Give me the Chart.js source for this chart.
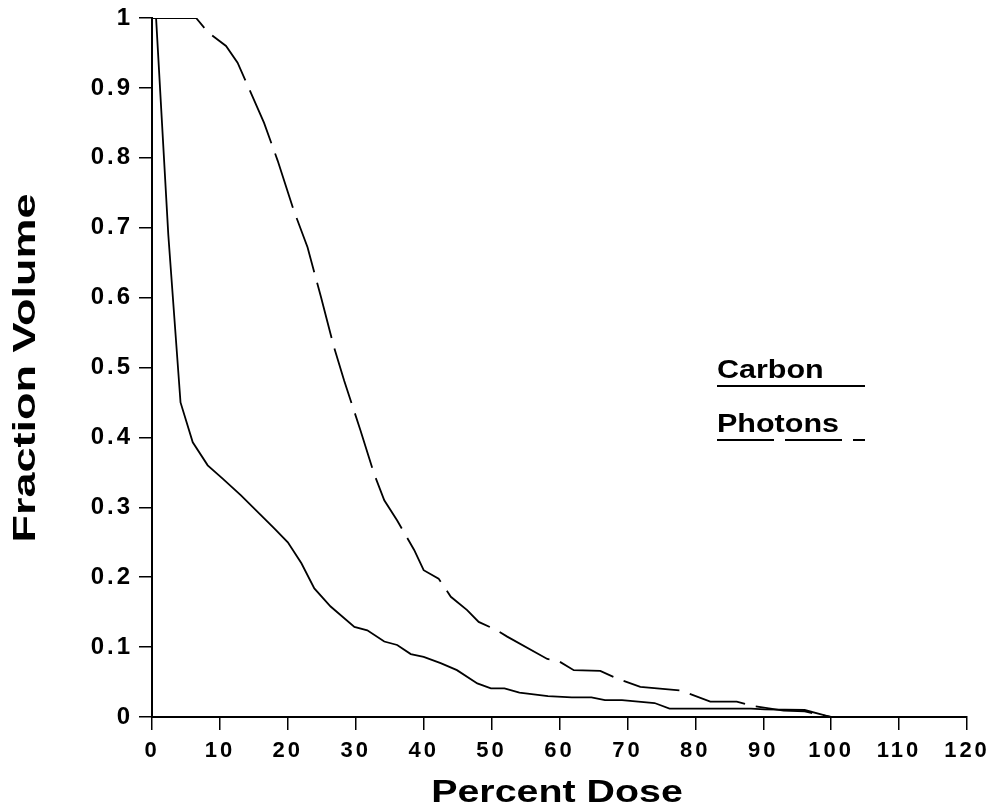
<!DOCTYPE html>
<html>
<head>
<meta charset="utf-8">
<script src="https://cdn.jsdelivr.net/npm/chart.js@4.4.1/dist/chart.umd.min.js"></script>
<style>
  html, body { margin: 0; padding: 0; background: #fff; }
  #wrap { width: 996px; height: 812px; }
</style>
</head>
<body>
<div id="wrap"><canvas id="dvh"></canvas></div>
<script>
// dose-volume histogram, values
const carbonDose = [0, 0.6, 2.4, 4.2, 6.0, 8.2, 10.4, 13.1, 18.0, 20.0, 22.0, 23.9, 26.3, 29.8, 31.7, 34.2, 36.1, 38.1, 40.0, 42.5, 44.9, 47.9, 49.9, 51.9, 54.1, 58.3, 61.8, 64.7, 66.7, 69.2, 71.6, 74.0, 76.2, 78.4, 88.2, 90.2, 96.1, 100];
const carbonVol = [1, 1, 0.69, 0.45, 0.393, 0.36, 0.341, 0.317, 0.27, 0.25, 0.22, 0.184, 0.158, 0.129, 0.124, 0.108, 0.103, 0.09, 0.086, 0.077, 0.067, 0.048, 0.041, 0.041, 0.035, 0.03, 0.028, 0.028, 0.024, 0.024, 0.022, 0.02, 0.012, 0.012, 0.012, 0.011, 0.01, 0];

const photonDose = [0, 6.5, 8.2, 9.4, 10.9, 12.6, 14.1, 16.5, 18.5, 20.9, 22.9, 24.9, 26.8, 28.3, 30.7, 32.7, 34.2, 36.1, 38.6, 40.0, 42.2, 44.0, 46.4, 48.1, 50.8, 52.3, 58.2, 59.7, 62.1, 66.0, 68.5, 71.9, 77.8, 82.2, 86.1, 88.3, 93.0, 96.1, 100];
const photonVol = [1, 1, 0.98, 0.971, 0.96, 0.936, 0.903, 0.85, 0.796, 0.724, 0.672, 0.6, 0.529, 0.481, 0.41, 0.348, 0.31, 0.281, 0.239, 0.21, 0.198, 0.172, 0.153, 0.136, 0.124, 0.115, 0.083, 0.081, 0.067, 0.066, 0.055, 0.043, 0.038, 0.022, 0.022, 0.016, 0.009, 0.008, 0];

const doseTicks = ["0", "10", "20", "30", "40", "50", "60", "70", "80", "90", "100", "110", "120"];
const volTicks = ["0", "0.1", "0.2", "0.3", "0.4", "0.5", "0.6", "0.7", "0.8", "0.9", "1"];

const FONT = '"Liberation Sans", Arial, Helvetica, sans-serif';
const DASH = [57, 11];

function toPoints(xs, ys) {
    return xs.map((x, i) => ({ x: x, y: ys[i] }));
}

// the scan uses a wide helvetica, so stretch the text sideways
function wideText(ctx, text, x, y, size, sx, rot) {
    ctx.save();
    ctx.translate(x, y);
    if (rot) ctx.rotate(rot);
    ctx.scale(sx, 1);
    ctx.font = "bold " + size + "px " + FONT;
    ctx.fillText(text, 0, 0);
    ctx.restore();
}

const annotate = {
    id: "annotate",
    beforeDraw(chart) {
        chart.ctx.letterSpacing = "3px";
    },
    afterDraw(chart) {
        const ctx = chart.ctx;
        const a = chart.chartArea;
        ctx.save();
        ctx.letterSpacing = "0px";
        ctx.fillStyle = "#000";
        ctx.strokeStyle = "#000";
        ctx.textBaseline = "alphabetic";

        // axis titles
        ctx.textAlign = "center";
        wideText(ctx, "Percent Dose", 557, a.bottom + 85, 31, 1.27);
        wideText(ctx, "Fraction Volume", 35, 368, 31, 1.45, -Math.PI / 2);

        // legend
        ctx.textAlign = "left";
        const lx = a.left + 565;
        wideText(ctx, "Carbon", lx, 378, 25, 1.22);
        wideText(ctx, "Photons", lx, 432, 25, 1.22);
        ctx.lineWidth = 1.8;
        ctx.beginPath();
        ctx.moveTo(lx, 386);
        ctx.lineTo(lx + 148, 386);
        ctx.stroke();
        ctx.setLineDash(DASH);
        ctx.beginPath();
        ctx.moveTo(lx, 440);
        ctx.lineTo(lx + 148, 440);
        ctx.stroke();
        ctx.restore();
    }
};

const ctx = document.getElementById("dvh").getContext("2d");

new Chart(ctx, {
    type: "line",
    data: {
        datasets: [
            {
                label: "Carbon",
                data: toPoints(carbonDose, carbonVol),
                borderColor: "#000",
                borderWidth: 1.8,
                pointRadius: 0,
                fill: false,
                tension: 0
            },
            {
                label: "Photons",
                data: toPoints(photonDose, photonVol),
                borderColor: "#000",
                borderWidth: 1.8,
                borderDash: DASH,
                pointRadius: 0,
                fill: false,
                tension: 0
            }
        ]
    },
    options: {
        responsive: true,
        maintainAspectRatio: false,
        animation: false,
        layout: { padding: { top: 16, right: 29, bottom: 0, left: 0 } },
        plugins: {
            legend: { display: false },
            tooltip: { enabled: false }
        },
        scales: {
            x: {
                type: "linear",
                min: 0,
                max: 120,
                afterFit(scale) { scale.height = 95; },
                border: { display: true, color: "#000", width: 2 },
                grid: { drawOnChartArea: false, drawTicks: true, tickLength: 13, color: "#000", lineWidth: 1.5 },
                ticks: {
                    stepSize: 10,
                    autoSkip: false,
                    maxRotation: 0,
                    color: "#000",
                    padding: 8,
                    font: { family: FONT, size: 22, weight: "bold" },
                    callback: (v, i) => doseTicks[i]
                }
            },
            y: {
                type: "linear",
                min: 0,
                max: 1,
                afterFit(scale) { scale.width = 152; },
                border: { display: true, color: "#000", width: 2 },
                grid: { drawOnChartArea: false, drawTicks: true, tickLength: 13, color: "#000", lineWidth: 1.5 },
                ticks: {
                    stepSize: 0.1,
                    autoSkip: false,
                    color: "#000",
                    padding: 6,
                    font: { family: FONT, size: 24, weight: "bold", lineHeight: 1 },
                    callback: (v, i) => volTicks[i]
                }
            }
        }
    },
    plugins: [annotate]
});
</script>
</body>
</html>
